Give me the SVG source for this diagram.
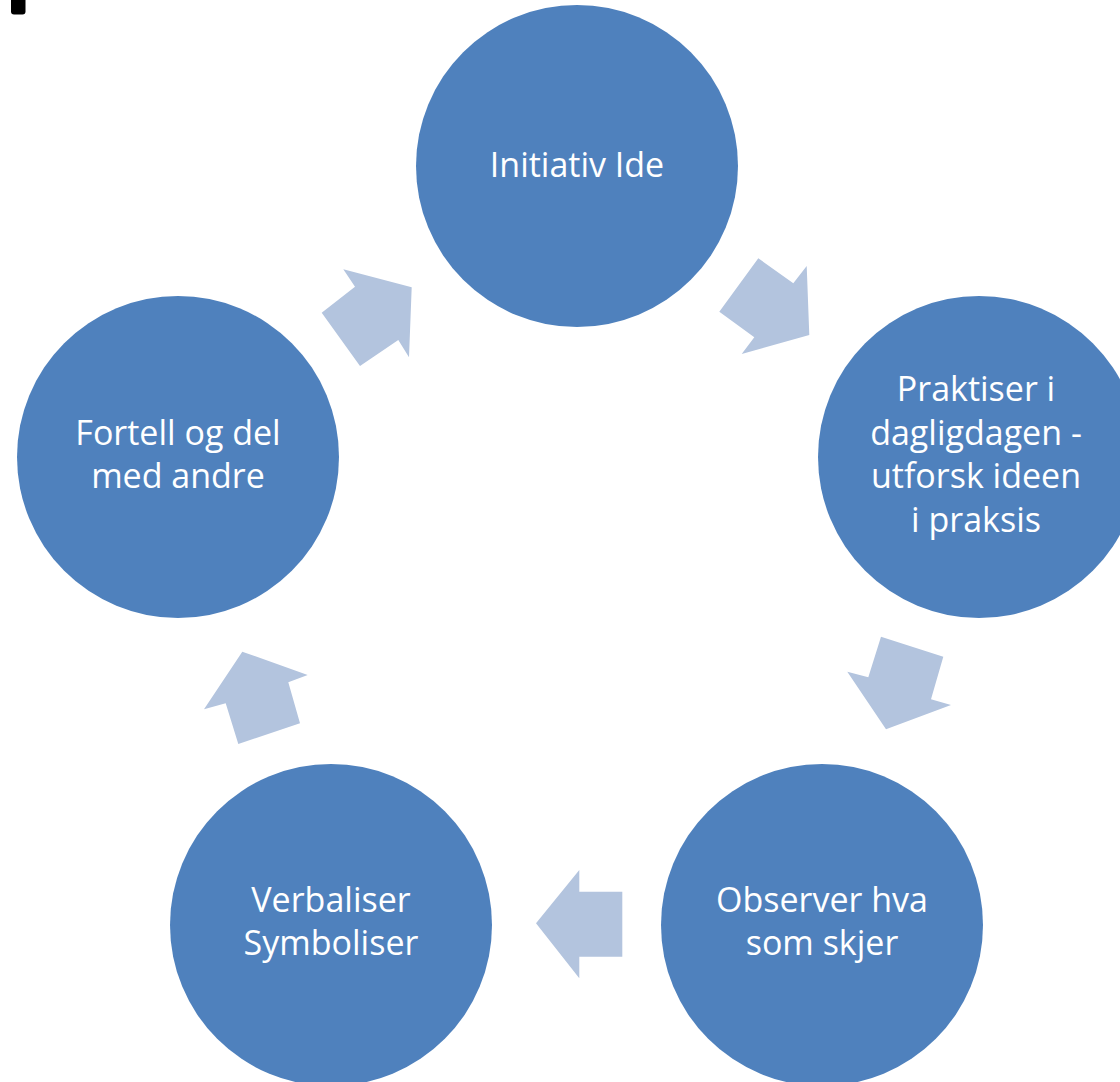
<svg xmlns="http://www.w3.org/2000/svg" width="1120" height="1082" viewBox="0 0 1120 1082">
  <style>
    .node { fill: #4F81BD; }
    .arrow { fill: #B3C4DE; }
    .label { fill: #FFFFFF; font-family: "Open Sans", "Liberation Sans", sans-serif; font-size: 34px; text-anchor: middle; }
  </style>
  <rect width="1120" height="1082" fill="#FFFFFF"/>
  <path d="M11,0 H25.5 V11.5 Q25.5,14.5 22.5,14.5 H14 Q11,14.5 11,11.5 Z" fill="#000000"/>
  <g id="connectors">
    <polygon class="arrow" points="343.3,269.3 411.7,287.3 409,357.3 398.3,340 360,366 321.7,312.7 355,286.7"/>
    <polygon class="arrow" points="758.3,258.3 793.3,283.3 806.7,266 809.3,335 741.7,354 754.3,337.3 719.3,311.7"/>
    <polygon class="arrow" points="881,636.7 943.3,656.7 931,699.3 951,705 886,729.3 847.3,671.7 868.3,677.3"/>
    <polygon class="arrow" points="579.3,870 579.3,891.7 622.3,891.7 622.3,956.7 579.3,956.7 579.3,978.3 536,923.3"/>
    <polygon class="arrow" points="242.3,651.7 307.7,675 288.3,682.3 300,723.3 238.3,744 225.7,703.3 204,709.3"/>
  </g>
  <g id="node-initiativ">
    <circle class="node" cx="577" cy="166" r="161"/>
    <text class="label" x="577" y="177">Initiativ Ide</text>
  </g>
  <g id="node-praktiser">
    <circle class="node" cx="979" cy="457" r="161"/>
    <text class="label" x="976" y="401">Praktiser i</text>
    <text class="label" x="976" y="445">dagligdagen -</text>
    <text class="label" x="976" y="488">utforsk ideen</text>
    <text class="label" x="976" y="532">i praksis</text>
  </g>
  <g id="node-observer">
    <circle class="node" cx="822" cy="925" r="161"/>
    <text class="label" x="822" y="912">Observer hva</text>
    <text class="label" x="822" y="955">som skjer</text>
  </g>
  <g id="node-verbaliser">
    <circle class="node" cx="331" cy="925" r="161"/>
    <text class="label" x="331" y="912">Verbaliser</text>
    <text class="label" x="331" y="955">Symboliser</text>
  </g>
  <g id="node-fortell">
    <circle class="node" cx="178" cy="457" r="161"/>
    <text class="label" x="178" y="445">Fortell og del</text>
    <text class="label" x="178" y="488">med andre</text>
  </g>
</svg>
